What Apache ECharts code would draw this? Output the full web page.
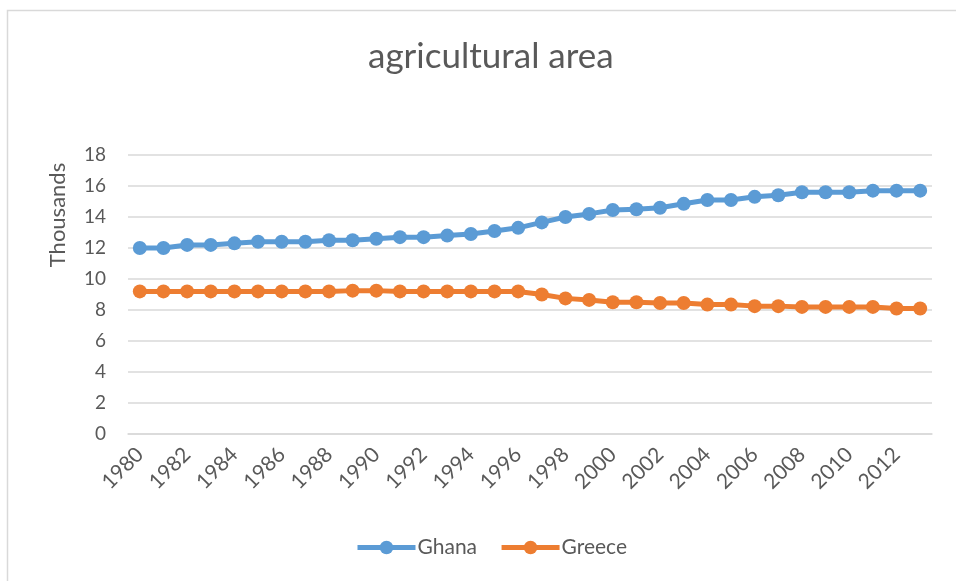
<!DOCTYPE html>
<html>
<head>
<meta charset="utf-8">
<script src="https://cdn.jsdelivr.net/npm/echarts@6/dist/echarts.min.js"></script>
<style>
html,body{margin:0;padding:0;background:#fff;}
#chart{width:956px;height:581px;}
</style>
</head>
<body>
<div id="chart"></div>
<script>
const titleText = "agricultural area";
const yAxisName = "Thousands";
const years = ["1980","1981","1982","1983","1984","1985","1986","1987","1988","1989","1990","1991","1992","1993","1994","1995","1996","1997","1998","1999","2000","2001","2002","2003","2004","2005","2006","2007","2008","2009","2010","2011","2012","2013"];
const ghana = [12.0,12.0,12.2,12.2,12.3,12.4,12.4,12.4,12.5,12.5,12.6,12.7,12.7,12.8,12.9,13.1,13.3,13.65,14.0,14.2,14.45,14.5,14.6,14.85,15.1,15.1,15.3,15.4,15.6,15.6,15.6,15.7,15.7,15.7];
const greece = [9.2,9.2,9.2,9.2,9.2,9.2,9.2,9.2,9.2,9.25,9.25,9.2,9.2,9.2,9.2,9.2,9.2,9.0,8.75,8.65,8.5,8.5,8.45,8.45,8.35,8.35,8.25,8.25,8.2,8.2,8.2,8.2,8.1,8.1];
const seriesNames = ["Ghana","Greece"];
const colors = ["#5B9BD5","#ED7D31"];

const FONT = "Lato";
const chart = echarts.init(document.getElementById('chart'));
chart.setOption({
  animation:false,
  backgroundColor:'#fff',
  graphic:[
    {type:'rect',shape:{x:7.5,y:10.5,width:1000,height:1000},style:{fill:'none',stroke:'#d9d9d9',lineWidth:1.5},silent:true},
    {type:'text',x:58,y:215,rotation:Math.PI/2,style:{text:yAxisName,fontFamily:FONT,fontSize:22,fill:'#595959',align:'center',verticalAlign:'middle'},silent:true}
  ],
  title:{text:titleText,left:363,top:34,textStyle:{fontFamily:FONT,fontSize:35,fontWeight:'normal',color:'#595959'}},
  grid:{left:128,right:24,top:155,bottom:147,containLabel:false},
  legend:{data:seriesNames,bottom:18,left:350,itemWidth:58,itemHeight:17,itemGap:22,
    lineStyle:{width:5},
    textStyle:{fontFamily:FONT,fontSize:21,color:'#595959',padding:[0,0,0,-3]}},
  xAxis:{type:'category',data:years,boundaryGap:true,
    axisLine:{lineStyle:{color:'#d9d9d9',width:1.5}},axisTick:{show:false},
    axisLabel:{interval:1,rotate:45,fontFamily:FONT,fontSize:21,color:'#595959',margin:17}},
  yAxis:{type:'value',min:0,max:18,interval:2,
    axisLine:{show:false},axisTick:{show:false},
    axisLabel:{fontFamily:FONT,fontSize:19,color:'#595959',margin:22},
    splitLine:{lineStyle:{color:'#d9d9d9',width:1.5}}},
  series:[
    {name:seriesNames[0],type:'line',data:ghana,color:colors[0],symbol:'circle',symbolSize:14,
      lineStyle:{width:5,color:colors[0]},itemStyle:{color:colors[0]}},
    {name:seriesNames[1],type:'line',data:greece,color:colors[1],symbol:'circle',symbolSize:14,
      lineStyle:{width:5,color:colors[1]},itemStyle:{color:colors[1]}}
  ]
});
</script>
</body>
</html>
